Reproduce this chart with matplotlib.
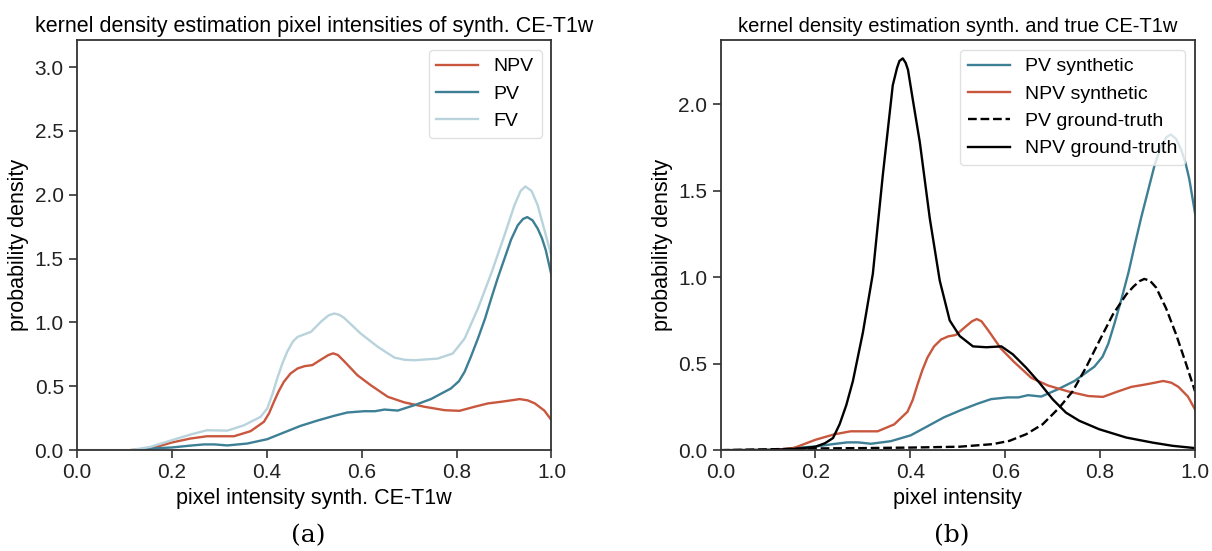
import matplotlib
matplotlib.use("Agg")
import matplotlib.pyplot as plt
import numpy as np

plt.rcParams['font.family'] = ['Liberation Sans', 'DejaVu Sans']

RED = '#c8573e'
TEAL = '#3d7f95'
LIGHT = '#b8d3dc'

# synthetic CE-T1w, PV / NPV / FV (same curves in both panels)
pv_syn_x = [0, 0.12, 0.155, 0.2, 0.237, 0.267, 0.29, 0.317, 0.359, 0.401, 0.436, 0.471, 0.507,
            0.542, 0.57, 0.605, 0.628, 0.648, 0.676, 0.711, 0.746, 0.788, 0.805, 0.817, 0.83,
            0.845, 0.86, 0.873, 0.887, 0.901, 0.915, 0.929, 0.94, 0.949, 0.96, 0.971, 0.98,
            0.988, 1.0]
pv_syn_y = [0, 0, 0.013, 0.021, 0.035, 0.045, 0.045, 0.037, 0.052, 0.086, 0.138, 0.19, 0.232,
            0.269, 0.295, 0.305, 0.305, 0.318, 0.31, 0.352, 0.40, 0.483, 0.54, 0.614, 0.73,
            0.874, 1.03, 1.187, 1.35, 1.5, 1.65, 1.761, 1.81, 1.825, 1.8, 1.735, 1.66,
            1.566, 1.37]

npv_syn_x = [0, 0.11, 0.155, 0.2, 0.239, 0.274, 0.331, 0.366, 0.394, 0.405, 0.415, 0.425, 0.436,
             0.45, 0.465, 0.48, 0.496, 0.518, 0.53, 0.54, 0.55, 0.563, 0.591, 0.619, 0.655,
             0.69, 0.732, 0.775, 0.806, 0.838, 0.866, 0.894, 0.915, 0.933, 0.95, 0.965, 0.985,
             1.0]
npv_syn_y = [0, 0, 0.013, 0.06, 0.091, 0.109, 0.109, 0.149, 0.222, 0.29, 0.378, 0.46, 0.535,
             0.6, 0.64, 0.658, 0.666, 0.718, 0.745, 0.758, 0.745, 0.697, 0.587, 0.509, 0.418,
             0.374, 0.34, 0.313, 0.308, 0.34, 0.366, 0.379, 0.39, 0.40, 0.39, 0.366, 0.31,
             0.235]

fv_syn_x = [0, 0.113, 0.155, 0.2, 0.239, 0.274, 0.317, 0.352, 0.387, 0.401, 0.412, 0.422, 0.433,
            0.443, 0.455, 0.465, 0.493, 0.514, 0.53, 0.542, 0.553, 0.563, 0.598, 0.634, 0.669,
            0.69, 0.711, 0.76, 0.792, 0.817, 0.845, 0.873, 0.901, 0.922, 0.935, 0.945, 0.958,
            0.971, 0.992, 1.0]
fv_syn_y = [0, 0, 0.026, 0.078, 0.122, 0.156, 0.153, 0.195, 0.261, 0.326, 0.44, 0.561, 0.68,
            0.77, 0.85, 0.887, 0.926, 1.005, 1.055, 1.07, 1.06, 1.036, 0.913, 0.809, 0.725,
            0.708, 0.704, 0.717, 0.757, 0.874, 1.109, 1.383, 1.683, 1.918, 2.03, 2.065, 2.03,
            1.918, 1.63, 1.52]

# ground truth CE-T1w
pv_gt_x = [0, 0.1, 0.2, 0.3, 0.4, 0.504, 0.574, 0.609, 0.644, 0.679, 0.714, 0.742, 0.77, 0.798,
           0.827, 0.855, 0.87, 0.883, 0.893, 0.905, 0.918, 0.939, 0.96, 0.981, 1.0]
pv_gt_y = [0, 0.005, 0.01, 0.012, 0.015, 0.02, 0.035, 0.054, 0.092, 0.15, 0.246, 0.34, 0.477, 0.63,
           0.785, 0.90, 0.945, 0.977, 0.99, 0.98, 0.94, 0.82, 0.67, 0.50, 0.34]

npv_gt_x = [0, 0.1, 0.14, 0.17, 0.2, 0.22, 0.237, 0.251, 0.265, 0.279, 0.3, 0.321, 0.342, 0.363,
            0.372, 0.377, 0.384, 0.39, 0.395, 0.405, 0.42, 0.441, 0.462, 0.483, 0.504, 0.532,
            0.56, 0.592, 0.616, 0.644, 0.672, 0.70, 0.728, 0.756, 0.798, 0.855, 0.91, 0.953,
            1.0]
npv_gt_y = [0, 0.002, 0.005, 0.01, 0.02, 0.04, 0.07, 0.15, 0.26, 0.40, 0.68, 1.02, 1.59, 2.11,
            2.21, 2.25, 2.265, 2.24, 2.2, 2.03, 1.78, 1.34, 0.98, 0.75, 0.66, 0.60,
            0.595, 0.60, 0.554, 0.477, 0.39, 0.294, 0.217, 0.17, 0.121, 0.073, 0.044, 0.025,
            0.012]

fig = plt.figure(figsize=(12.12, 5.51), dpi=100)
ax1 = fig.add_axes([0.0635, 0.183, 0.3915, 0.744])
ax2 = fig.add_axes([0.5945, 0.183, 0.3915, 0.744])

lw = 1.7
ax1.plot(npv_syn_x, npv_syn_y, color=RED, lw=lw, label='NPV')
ax1.plot(pv_syn_x, pv_syn_y, color=TEAL, lw=lw, label='PV')
ax1.plot(fv_syn_x, fv_syn_y, color=LIGHT, lw=lw, label='FV')
ax1.set_ylim(0, 3.21)
ax1.set_yticks(np.arange(0, 3.01, 0.5))
ax1.set_xlabel('pixel intensity synth. CE-T1w', fontsize=15.5)
ax1.set_title('kernel density estimation pixel intensities of synth. CE-T1w', fontsize=15.5)

ax2.plot(pv_syn_x, pv_syn_y, color=TEAL, lw=lw, label='PV synthetic')
ax2.plot(npv_syn_x, npv_syn_y, color=RED, lw=lw, label='NPV synthetic')
ax2.plot(pv_gt_x, pv_gt_y, color='black', lw=lw, ls='--', label='PV ground-truth')
ax2.plot(npv_gt_x, npv_gt_y, color='black', lw=lw, label='NPV ground-truth')
ax2.set_ylim(0, 2.37)
ax2.set_yticks(np.arange(0, 2.01, 0.5))
ax2.set_xlabel('pixel intensity', fontsize=15.5)
ax2.set_title('kernel density estimation synth. and true CE-T1w', fontsize=14.5)

for ax in (ax1, ax2):
    ax.set_xlim(0, 1)
    ax.set_xticks(np.arange(0, 1.01, 0.2))
    ax.xaxis.set_major_formatter(matplotlib.ticker.FormatStrFormatter('%.1f'))
    ax.yaxis.set_major_formatter(matplotlib.ticker.FormatStrFormatter('%.1f'))
    ax.set_ylabel('probability density', fontsize=15.5)
    ax.tick_params(direction='out', length=6, width=1.2, labelsize=15, color='#333333',
                   labelcolor='#222222')
    for s in ax.spines.values():
        s.set_linewidth(1.3)
        s.set_color('#333333')
    ax.legend(loc='upper right', fontsize=14, frameon=True, fancybox=True,
              edgecolor='#d9d9d9', handlelength=2.15)

fig.text(0.254, 0.016, '(a)', ha='center', fontsize=18, family='DejaVu Serif')
fig.text(0.785, 0.016, '(b)', ha='center', fontsize=18, family='DejaVu Serif')

fig.savefig('out.png', dpi=100)
